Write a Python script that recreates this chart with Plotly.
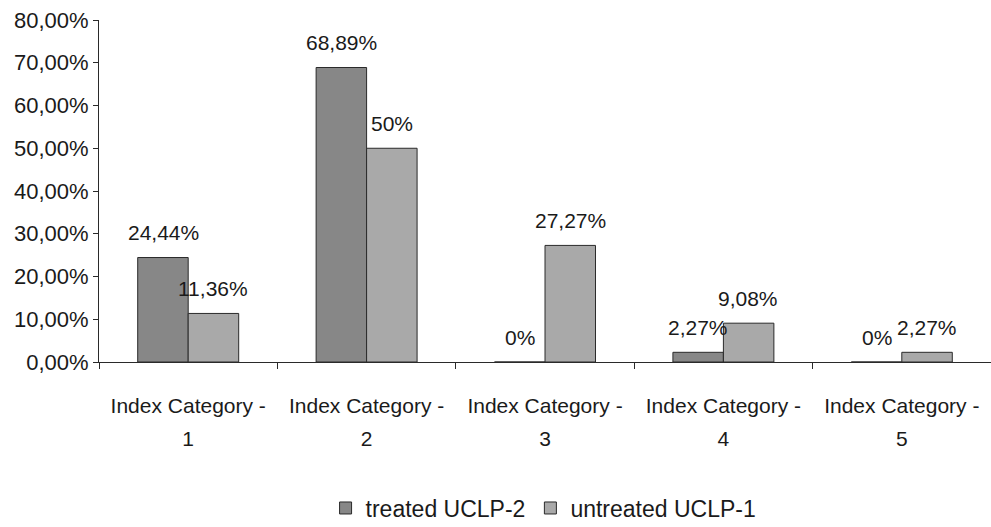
import plotly.graph_objects as go

categories = ["Index Category -", "Index Category -", "Index Category -", "Index Category -", "Index Category -"]
category_numbers = ["1", "2", "3", "4", "5"]
treated = [24.44, 68.89, 0, 2.27, 0]
untreated = [11.36, 50, 27.27, 9.08, 2.27]
y_ticks = [0, 10, 20, 30, 40, 50, 60, 70, 80]
y_tick_labels = ["0,00%", "10,00%", "20,00%", "30,00%", "40,00%", "50,00%", "60,00%", "70,00%", "80,00%"]
series_names = ["treated UCLP-2", "untreated UCLP-1"]

FONT = "Liberation Sans, Arial, sans-serif"
TXT = "#1a1a1a"
idx = list(range(len(categories)))


def fmt(v):
    s = f"{v:.2f}".replace(".", ",")
    if s.endswith(",00"):
        s = s[:-3]
    return s + "%"


fig = go.Figure()
fig.add_trace(go.Bar(x=idx, y=treated, name=series_names[0],
                     marker=dict(color="#878787", line=dict(color="#2a2a2a", width=1))))
fig.add_trace(go.Bar(x=idx, y=untreated, name=series_names[1],
                     marker=dict(color="#a9a9a9", line=dict(color="#2a2a2a", width=1))))
# carrier for the second row of category labels
fig.add_trace(go.Scatter(x=idx, y=[0] * len(idx), xaxis="x2", mode="none",
                         showlegend=False, hoverinfo="skip"))

annotations = []
for i in idx:
    for vals, shift in ((treated, -25), (untreated, 25)):
        annotations.append(dict(x=i, y=vals[i], text=fmt(vals[i]), xref="x", yref="y",
                                showarrow=False, xshift=shift, yshift=25, yanchor="middle",
                                font=dict(family=FONT, size=21, color=TXT)))

fig.update_layout(
    width=991, height=527,
    margin=dict(l=99, r=0, t=20, b=165, autoexpand=False),
    paper_bgcolor="white", plot_bgcolor="white",
    barmode="group", bargap=0.434, bargroupgap=0,
    font=dict(family=FONT, size=21, color=TXT),
    showlegend=True,
    legend=dict(orientation="h", x=0.254, xanchor="left",
                yref="container", y=0.036, yanchor="middle",
                font=dict(family=FONT, size=23, color=TXT), itemwidth=30,
                traceorder="normal"),
    annotations=annotations,
    xaxis=dict(type="linear", range=[-0.5, 4.5], tickmode="array", tickvals=idx,
               ticktext=categories, showgrid=False, zeroline=False, automargin=False,
               showline=True, linecolor="#2a2a2a", linewidth=1, ticks="",
               ticklabelstandoff=25, ticklabeloverflow="allow",
               tickfont=dict(family=FONT, size=21, color=TXT),
               minor=dict(tickmode="array", tickvals=[-0.5, 0.5, 1.5, 2.5, 3.5, 4.5],
                          ticks="outside", ticklen=6, tickcolor="#2a2a2a", showgrid=False)),
    xaxis2=dict(type="linear", range=[-0.5, 4.5], overlaying="x", anchor="y", side="bottom",
                tickmode="array", tickvals=idx, ticktext=category_numbers, automargin=False,
                showgrid=False, zeroline=False, showline=False, ticks="",
                ticklabelstandoff=62, ticklabeloverflow="allow",
                tickfont=dict(family=FONT, size=21, color=TXT)),
    yaxis=dict(range=[0, 80], tickmode="array", tickvals=y_ticks, ticktext=y_tick_labels,
               showgrid=False, zeroline=False, showline=True, linecolor="#2a2a2a", linewidth=1,
               ticks="outside", ticklen=5, tickcolor="#2a2a2a", automargin=False,
               ticklabeloverflow="allow",
               tickfont=dict(family=FONT, size=22, color=TXT)),
)

# remove the browser's default body margin so the figure fills the window
page_fix = (
    "document.documentElement.style.margin='0';"
    "document.documentElement.style.overflow='hidden';"
    "document.body.style.margin='0';"
    "document.body.style.overflow='hidden';"
)
fig.write_html("out.html", post_script=page_fix, config={"displayModeBar": False})
